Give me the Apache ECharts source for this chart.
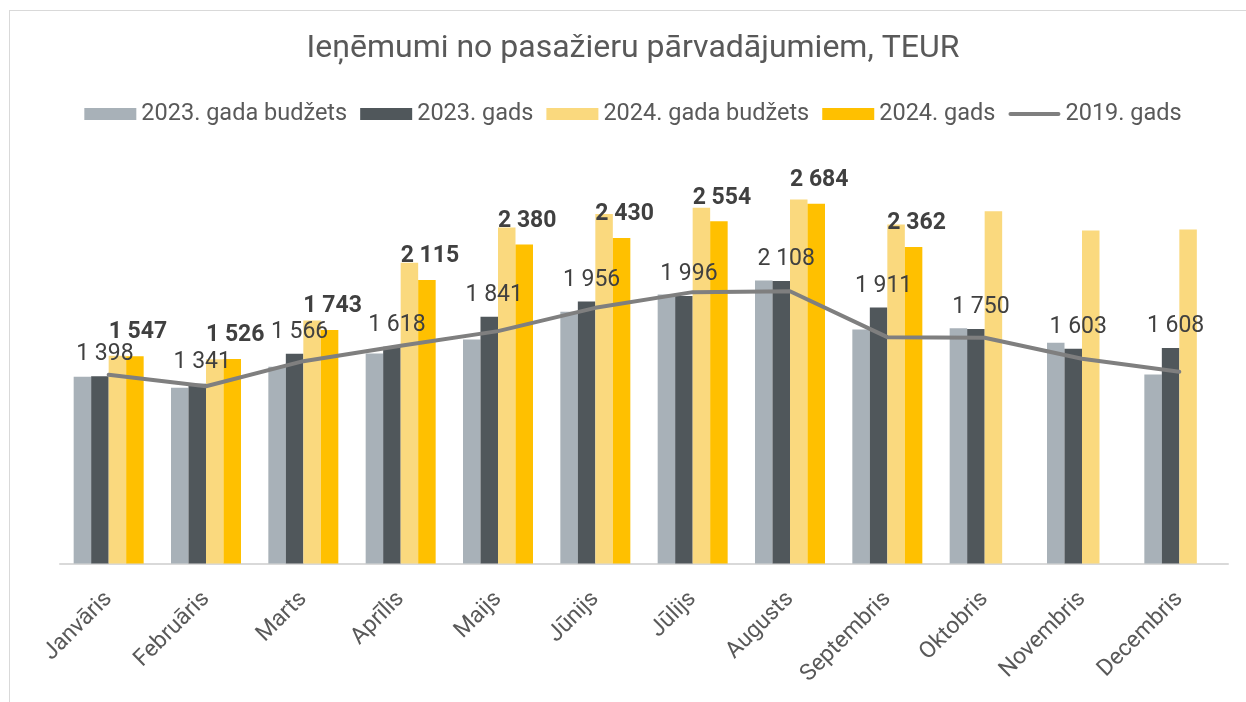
<!DOCTYPE html>
<html>
<head>
<meta charset="utf-8">
<script src="https://cdn.jsdelivr.net/npm/echarts@6/dist/echarts.min.js"></script>
<style>
  html, body { margin: 0; padding: 0; background: #fff; overflow: hidden; }
  #frame { position: absolute; left: 9px; top: 10px; width: 1300px; height: 800px; border: 1.5px solid #d9d9d9; }
  #chart { position: absolute; left: 0; top: 0; width: 1266px; height: 702px; }
</style>
</head>
<body>
<div id="frame"></div>
<div id="chart"></div>
<script>
// mēneši
const months = ['Janvāris', 'Februāris', 'Marts', 'Aprīlis', 'Maijs', 'Jūnijs', 'Jūlijs', 'Augusts', 'Septembris', 'Oktobris', 'Novembris', 'Decembris'];

// TEUR
const budget2023 = [1394, 1311, 1468, 1567, 1672, 1878, 2007, 2112, 1746, 1756, 1647, 1411];
const actual2023 = [1398, 1341, 1566, 1618, 1841, 1956, 1996, 2108, 1911, 1750, 1603, 1608];
const budget2024 = [1550, 1525, 1814, 2244, 2507, 2609, 2654, 2716, 2530, 2629, 2485, 2492];
const actual2024 = [1547, 1526, 1743, 2115, 2380, 2430, 2554, 2684, 2362, null, null, null];
const year2019 = [1408, 1323, 1510, 1625, 1734, 1908, 2025, 2032, 1689, 1685, 1528, 1431];

const fmt = v => String(v).replace(/\B(?=(\d{3})+(?!\d))/g, ' ');

const chart = echarts.init(document.getElementById('chart'));

const barBase = { type: 'bar', barWidth: 17.5, barGap: '0%' };

// bieza līnija legendā (ar neredzamu punktu, lai saglabātu 52x12 rāmi)
const lineIcon = 'path://M0,0L0,12L0,0Z M2,4L50,4Q52,4 52,6Q52,8 50,8L2,8Q0,8 0,6Q0,4 2,4Z M52,0L52,12L52,0Z';

chart.setOption({
  animation: false,
  textStyle: { fontFamily: 'Roboto' },
  title: {
    text: 'Ieņēmumi no pasažieru pārvadājumiem, TEUR',
    left: 'center',
    top: 28,
    textStyle: { fontFamily: 'Roboto', fontSize: 32, fontWeight: 'normal', color: '#595959' }
  },
  legend: {
    left: 'center',
    top: 97,
    itemWidth: 52,
    itemHeight: 12,
    itemGap: 13,
    textStyle: { fontFamily: 'Roboto', fontSize: 23.5, color: '#595959' },
    data: [
      { name: '2023. gada budžets', icon: 'rect' },
      { name: '2023. gads', icon: 'rect' },
      { name: '2024. gada budžets', icon: 'rect' },
      { name: '2024. gads', icon: 'rect' },
      { name: '2019. gads', icon: lineIcon, itemStyle: { color: '#7F7F7F' } }
    ]
  },
  grid: { left: 60, right: 38, top: 161.5, bottom: 138.5, containLabel: false },
  xAxis: {
    type: 'category',
    data: months,
    axisLine: { lineStyle: { color: '#d9d9d9', width: 2 } },
    axisTick: { show: false },
    axisLabel: { rotate: 45, margin: 32, fontSize: 23, color: '#595959', fontFamily: 'Roboto' }
  },
  yAxis: {
    type: 'value',
    min: 0,
    max: 3000,
    show: false,
    splitLine: { show: false }
  },
  series: [
    Object.assign({}, barBase, {
      name: '2023. gada budžets',
      data: budget2023,
      itemStyle: { color: '#A8B1B8' }
    }),
    Object.assign({}, barBase, {
      name: '2023. gads',
      data: actual2023,
      itemStyle: { color: '#50575B' },
      label: {
        show: true, position: 'top', distance: 10, offset: [5, 0],
        fontFamily: 'Roboto', fontSize: 23, color: '#404040',
        formatter: p => fmt(p.value)
      }
    }),
    Object.assign({}, barBase, {
      name: '2024. gada budžets',
      data: budget2024,
      itemStyle: { color: '#FAD97E' }
    }),
    Object.assign({}, barBase, {
      name: '2024. gads',
      data: actual2024,
      itemStyle: { color: '#FFC000' },
      label: {
        show: true, position: 'top', distance: 12, offset: [3, 0],
        fontFamily: 'Roboto', fontSize: 23, fontWeight: 'bold', color: '#404040',
        formatter: p => fmt(p.value)
      }
    }),
    {
      name: '2019. gads',
      type: 'line',
      data: year2019,
      symbol: 'none',
      z: 5,
      itemStyle: { color: '#7F7F7F' },
      lineStyle: { color: '#7F7F7F', width: 4, cap: 'round' }
    }
  ]
});
</script>
</body>
</html>
